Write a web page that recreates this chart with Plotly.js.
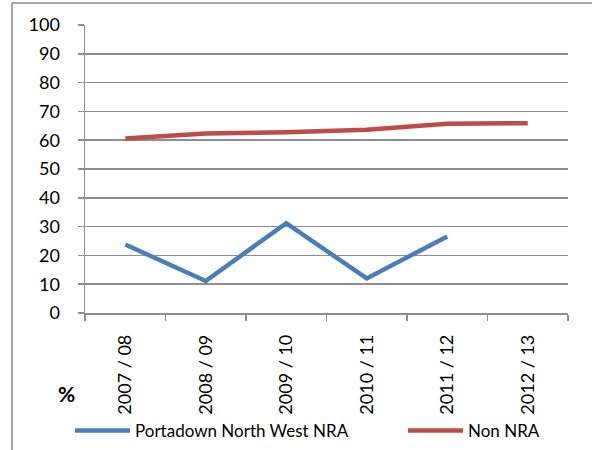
<!DOCTYPE html>
<html>
<head>
<meta charset="utf-8">
<script src="https://cdn.plot.ly/plotly-3.0.1.min.js"></script>
<style>
  body { margin: 0; background: #fff; }
  #chart { width: 592px; height: 450px; }
</style>
</head>
<body>
<div id="chart"></div>
<script>
var years = ['2007 / 08', '2008 / 09', '2009 / 10', '2010 / 11', '2011 / 12', '2012 / 13'];
var portadownNW = [23.8, 11.1, 31.2, 12.0, 26.6, null];
var nonNRA = [60.6, 62.3, 62.8, 63.6, 65.7, 65.9];
var yTicks = [0, 10, 20, 30, 40, 50, 60, 70, 80, 90, 100];

var FONT = 'Lato, "Noto Sans", sans-serif';
var GRID = '#8e8e8e';

var trace1 = {
  x: years,
  y: portadownNW,
  name: 'Portadown North West NRA',
  type: 'scatter',
  mode: 'lines',
  line: { color: '#4a7ebb', width: 4.5 },
  legend: 'legend',
  hoverinfo: 'none'
};

var trace2 = {
  x: years,
  y: nonNRA,
  name: 'Non NRA',
  type: 'scatter',
  mode: 'lines',
  line: { color: '#be4b48', width: 4.5 },
  legend: 'legend2',
  hoverinfo: 'none'
};

var data = [trace1, trace2];

var layout = {
  width: 592,
  height: 450,
  margin: { l: 85, r: 24, t: 25, b: 137 },
  paper_bgcolor: '#fff',
  plot_bgcolor: '#fff',
  font: { family: FONT, size: 18, color: '#000' },
  showlegend: true,
  xaxis: {
    type: 'category',
    range: [-0.5, 5.5],
    tickangle: -90,
    tickson: 'boundaries',
    ticks: 'outside',
    ticklen: 6,
    tickcolor: GRID,
    tickwidth: 1.5,
    showline: true,
    linecolor: GRID,
    linewidth: 1.5,
    showgrid: false,
    ticklabelstandoff: 13,
    automargin: false,
    tickfont: { size: 18 }
  },
  yaxis: {
    range: [0, 100],
    tickvals: yTicks,
    ticks: 'outside',
    ticklen: 6,
    tickcolor: GRID,
    tickwidth: 1.5,
    showline: true,
    linecolor: GRID,
    linewidth: 1.5,
    showgrid: true,
    gridcolor: GRID,
    gridwidth: 1.5,
    zeroline: false,
    ticklabelstandoff: 14,
    automargin: false,
    tickfont: { size: 18 }
  },
  legend: {
    orientation: 'h',
    xref: 'container', yref: 'container',
    x: 70 / 592, xanchor: 'left',
    y: 19 / 450, yanchor: 'middle',
    itemwidth: 55,
    font: { size: 17 },
    bgcolor: 'rgba(0,0,0,0)'
  },
  legend2: {
    orientation: 'h',
    xref: 'container', yref: 'container',
    x: 403 / 592, xanchor: 'left',
    y: 19 / 450, yanchor: 'middle',
    itemwidth: 55,
    font: { size: 17 },
    bgcolor: 'rgba(0,0,0,0)'
  },
  annotations: [{
    text: '<b>%</b>',
    xref: 'paper', yref: 'paper',
    x: -0.039, y: -0.281,
    xanchor: 'center', yanchor: 'middle',
    showarrow: false,
    font: { size: 21 }
  }],
  shapes: [{
    type: 'rect',
    xref: 'paper', yref: 'paper',
    x0: -0.1511, x1: 1.2,
    y0: -0.7, y1: 1.0764,
    line: { color: GRID, width: 1.5 },
    layer: 'below'
  }]
};

Plotly.newPlot('chart', data, layout, {displayModeBar: false, staticPlot: true});
</script>
</body>
</html>
